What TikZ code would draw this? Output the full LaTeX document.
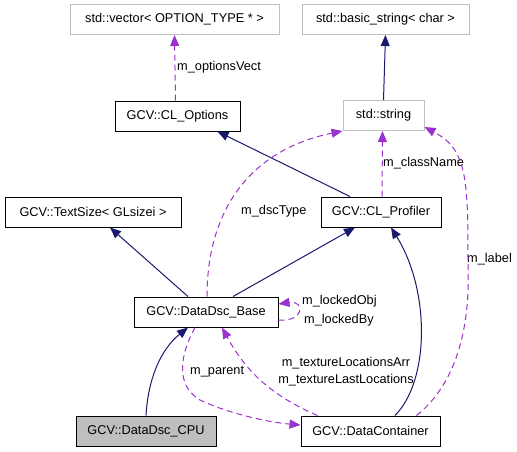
\documentclass[tikz,border=0pt]{standalone}
\usepackage{fontspec}
\setmainfont{Liberation Sans}
\usetikzlibrary{arrows.meta}
\definecolor{navy}{HTML}{191970}
\definecolor{orchid}{HTML}{9A32CD}
\definecolor{boxgray}{HTML}{BFBFBF}
\begin{document}
\begin{tikzpicture}[x=1pt,y=-1pt,
  font=\fontsize{12.75}{15}\selectfont,
  cls/.style={draw=black, fill=white, minimum height=30pt, inner sep=0pt, line width=1pt},
  ext/.style={cls, draw=boxgray},
  cur/.style={cls, fill=boxgray},
  lbl/.style={inner sep=0pt, anchor=west},
  inh/.style={draw=navy, line width=1pt, -{Triangle[length=11pt,width=9pt]}},
  use/.style={draw=orchid, line width=1pt, dash pattern=on 6pt off 4pt, -{Triangle[length=11pt,width=9pt]}}]
\useasboundingbox[fill=white] (0,0) rectangle (517,451);
% boxes
\node[ext, minimum width=209pt] (vec) at (174.5,19.5) {std::vector< OPTION\_TYPE * >};
\node[ext, minimum width=167pt] (bstr) at (385.5,19.5) {std::basic\_string< char >};
\node[cls, minimum width=125pt] (opts) at (177.5,116) {GCV::CL\_Options};
\node[ext, minimum width=81pt] (str) at (383.5,115.5) {std::string};
\node[cls, minimum width=176pt] (tsz) at (93,212) {GCV::TextSize< GLsizei >};
\node[cls, minimum width=120pt] (prof) at (381,212) {GCV::CL\_Profiler};
\node[cls, minimum width=144pt] (base) at (206,312) {GCV::DataDsc\_Base};
\node[cur, minimum width=140pt] (cpu) at (146,431) {GCV::DataDsc\_CPU};
\node[cls, minimum width=139pt] (dc) at (370.5,431) {GCV::DataContainer};
% labels
\node[lbl] (lvect) at (177,67) {m\_optionsVect};
\node[lbl] (lcls) at (383,163) {m\_className};
\node[lbl] (ldsc) at (241,211) {m\_dscType};
\node[lbl] (llab) at (467,259) {m\_label};
\node[lbl] (lobj) at (302,301) {m\_lockedObj};
\node[lbl] (lby) at (304,320) {m\_lockedBy};
\node[lbl] (lpar) at (190,372) {m\_parent};
\node[inner sep=0pt, align=center, font=\fontsize{12.75}{17}\selectfont] (ltex) at (346,371.5) {m\_textureLocationsArr\\m\_textureLastLocations};
% inheritance
\draw[inh] (str.north) -- (bstr.south);
\draw[inh] ([xshift=-31pt]prof.north) -- ([xshift=40pt]opts.south);
\draw[inh] ([xshift=-18pt]base.north) -- ([xshift=17pt]tsz.south);
\draw[inh] ([xshift=27pt]base.north) -- ([xshift=-26pt]prof.south);
\draw[inh] (dc.north) ++(24.5,0) coordinate (dcA) (dcA) .. controls (430,380) and (430,290) .. ([xshift=10pt]prof.south);
\draw[inh] (cpu.north) .. controls (148,380) and (160,350) .. ([xshift=-18pt]base.south);
% usage
\draw[use] ([xshift=-2pt]opts.north) -- (vec.south);
\draw[use] ([xshift=1pt]prof.north) -- ([xshift=-1pt]str.south);
\draw[use] ([xshift=1pt]base.north) .. controls (207,210) and (250,150) .. (str.south west);
\draw[use] ([xshift=46pt]dc.north) .. controls (455,385) and (470,330) .. (468,270) .. controls (468,180) and (468,150) .. ([yshift=4pt]str.south east);
\draw[use] ([yshift=-8pt]base.east) .. controls (305,322) and (305,300) .. ([yshift=8pt]base.east);
\draw[use] ([xshift=-11pt]base.south) .. controls (180,355) and (175,385) .. (200,400) .. controls (225,412) and (265,422) .. ([yshift=6pt]dc.west);
\draw[use] ([xshift=-53pt]dc.north) .. controls (270,395) and (245,370) .. ([xshift=16pt]base.south);
\end{tikzpicture}
\end{document}
